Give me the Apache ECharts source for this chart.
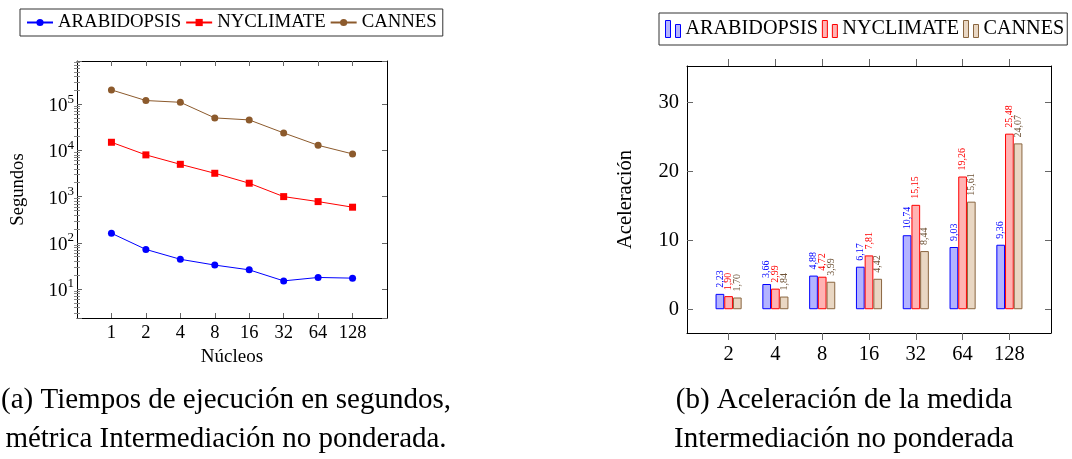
<!DOCTYPE html>
<html>
<head>
<meta charset="utf-8">
<script src="https://cdn.jsdelivr.net/npm/echarts@6/dist/echarts.min.js"></script>
<style>
html,body{margin:0;padding:0;background:#fff;}
#chart{width:1072px;height:459px;}
</style>
</head>
<body>
<div id="chart"></div>
<script>
// ---------- data: left chart (execution time, seconds, log scale) ----------
const coresLeft = ['1', '2', '4', '8', '16', '32', '64', '128'];
const timeArabidopsis = [161, 72, 44, 33, 26, 15, 17.8, 17.2];
const timeNyclimate = [15000, 8000, 5000, 3200, 1950, 1000, 780, 590];
const timeCannes = [204000, 120000, 110000, 50500, 45700, 23900, 12900, 8400];

// ---------- data: right chart (speedup) ----------
const coresRight = ['2', '4', '8', '16', '32', '64', '128'];
const speedArabidopsis = [2.23, 3.66, 4.88, 6.17, 10.74, 9.03, 9.36];
const speedNyclimate = [1.90, 2.99, 4.72, 7.81, 15.15, 19.26, 25.48];
const speedCannes = [1.70, 1.84, 3.99, 4.42, 8.44, 15.61, 24.07];
const speedTicks = [0, 10, 20, 30];

const seriesNames = ['ARABIDOPSIS', 'NYCLIMATE', 'CANNES'];

const FONT = 'Liberation Serif';
const logMin = 2.36, logMax = 861000;

// minor log ticks (2..9 x 10^k) for the axis decoration
const minorLog = [];
for (let k = 0; k <= 5; k++) {
  for (let m = 2; m <= 9; m++) {
    const v = m * Math.pow(10, k);
    if (v > logMin && v < logMax) minorLog.push(Math.log10(v));
  }
}
const leftXTicks = coresLeft.map((c, i) => i + 1);
const rightXTicks = coresRight.map((c, i) => i + 1);

const chart = echarts.init(document.getElementById('chart'), null, {renderer: 'canvas'});

const boxLine = {show: true, onZero: false, lineStyle: {color: '#000', width: 1}};
const tickStyle = {color: '#666', width: 1};

function pairs(arr) { return arr.map((v, i) => [i + 1, v]); }
function fmtComma(v) { return v.toFixed(2).replace('.', ','); }

const lineColors = ['#0000ff', '#ff0000', '#8c5a2c'];
const lineSymbols = ['circle', 'rect', 'circle'];
const timeSets = [timeArabidopsis, timeNyclimate, timeCannes];

const barFill = ['#b3b3ff', '#ffb3b3', '#e9d7c3'];
const barBorder = ['#0000ff', '#ff0000', '#8a6640'];
const barLabel = ['#0000ff', '#ff0000', '#6e5236'];
const speedSets = [speedArabidopsis, speedNyclimate, speedCannes];

const series = [];
timeSets.forEach((d, i) => {
  series.push({
    name: seriesNames[i], type: 'line', xAxisIndex: 0, yAxisIndex: 0,
    data: pairs(d), symbol: lineSymbols[i], symbolSize: 7,
    lineStyle: {width: 1, color: lineColors[i]},
    itemStyle: {color: lineColors[i]},
    animation: false
  });
});
speedSets.forEach((d, i) => {
  series.push({
    name: seriesNames[i], type: 'bar', xAxisIndex: 2, yAxisIndex: 4,
    data: pairs(d), barWidth: 8.7, barGap: '0%',
    itemStyle: {color: barFill[i], borderColor: barBorder[i], borderWidth: 1},
    label: {
      show: true, position: 'top', rotate: 90, distance: 6,
      align: 'left', verticalAlign: 'middle',
      fontFamily: FONT, fontSize: 10, color: barLabel[i],
      formatter: p => fmtComma(p.value[1])
    },
    animation: false
  });
});

const captionStyle = {fontFamily: FONT, fontSize: 29, fontWeight: 'normal', color: '#000', lineHeight: 39};

const option = {
  backgroundColor: '#fff',
  animation: false,
  title: [
    {text: '(a) Tiempos de ejecución en segundos,\nmétrica Intermediación no ponderada.',
     left: 226, top: 381, textAlign: 'center', padding: 0, textStyle: captionStyle},
    {text: '(b) Aceleración de la medida\nIntermediación no ponderada',
     left: 844, top: 381, textAlign: 'center', padding: 0, textStyle: captionStyle}
  ],
  legend: [
    {
      left: 20, top: 9, orient: 'horizontal',
      data: seriesNames,
      padding: [4, 6, 4, 6], itemGap: 4, itemWidth: 26, itemHeight: 9,
      borderColor: '#333', borderWidth: 1,
      textStyle: {fontFamily: FONT, fontSize: 18.8, color: '#000'},
      selectedMode: false
    },
    {
      left: 659, top: 13, width: 420, orient: 'horizontal',
      data: seriesNames.map((n, i) => ({
        name: n,
        icon: 'path://M0,0h5v17h-5z M10,4h5v13h-5z',
        itemStyle: {color: barFill[i], borderColor: barBorder[i], borderWidth: 1}
      })),
      padding: [6, 3, 6, 6], itemGap: 4, itemWidth: 15, itemHeight: 17,
      borderColor: '#333', borderWidth: 1,
      textStyle: {fontFamily: FONT, fontSize: 20.2, color: '#000'},
      selectedMode: false
    }
  ],
  grid: [
    {left: 77, top: 61, width: 310, height: 257, containLabel: false},
    {left: 687, top: 66, width: 364, height: 267, containLabel: false}
  ],
  xAxis: [
    {gridIndex: 0, type: 'value', position: 'bottom', min: 0, max: 9,
     axisLine: boxLine,
     axisTick: {show: true, inside: true, length: 5, lineStyle: tickStyle, customValues: leftXTicks},
     axisLabel: {show: true, customValues: leftXTicks, formatter: v => coresLeft[v - 1] || '',
                 fontFamily: FONT, fontSize: 18.5, color: '#000', margin: 6},
     splitLine: {show: false},
     name: 'Núcleos', nameLocation: 'middle', nameGap: 28,
     nameTextStyle: {fontFamily: FONT, fontSize: 19, color: '#000'}},
    {gridIndex: 0, type: 'value', position: 'top', min: 0, max: 9,
     axisLine: boxLine,
     axisTick: {show: true, inside: true, length: 5, lineStyle: tickStyle, customValues: leftXTicks},
     axisLabel: {show: false}, splitLine: {show: false}},
    {gridIndex: 1, type: 'value', position: 'bottom', min: 0.111, max: 7.889,
     axisLine: boxLine,
     axisTick: {show: true, inside: false, length: 7, lineStyle: tickStyle, customValues: rightXTicks},
     axisLabel: {show: true, customValues: rightXTicks, formatter: v => coresRight[v - 1] || '',
                 fontFamily: FONT, fontSize: 20.5, color: '#000', margin: 11},
     splitLine: {show: false}},
    {gridIndex: 1, type: 'value', position: 'top', min: 0.111, max: 7.889,
     axisLine: boxLine,
     axisTick: {show: true, inside: false, length: 7, lineStyle: tickStyle, customValues: rightXTicks},
     axisLabel: {show: false}, splitLine: {show: false}}
  ],
  yAxis: [
    {gridIndex: 0, type: 'log', logBase: 10, position: 'left', min: logMin, max: logMax,
     axisLine: boxLine,
     axisTick: {show: true, inside: true, length: 5, lineStyle: tickStyle},
     minorTick: {show: false},
     axisLabel: {
       show: true, margin: 3, color: '#000',
       formatter: v => {
         const e = Math.log10(v); const r = Math.round(e);
         if (Math.abs(e - r) > 1e-6) return '';
         return '{b|10}{s|' + r + '}';
       },
       rich: {
         b: {fontFamily: FONT, fontSize: 19, color: '#000', verticalAlign: 'bottom'},
         s: {fontFamily: FONT, fontSize: 13, color: '#000', verticalAlign: 'bottom', padding: [0, 0, 10, 0]}
       }
     },
     splitLine: {show: false},
     name: 'Segundos', nameLocation: 'middle', nameGap: 49, nameRotate: 90,
     nameTextStyle: {fontFamily: FONT, fontSize: 18.6, color: '#000'}},
    {gridIndex: 0, type: 'log', logBase: 10, position: 'right', min: logMin, max: logMax,
     axisLine: boxLine,
     axisTick: {show: true, inside: true, length: 5, lineStyle: tickStyle},
     axisLabel: {show: false}, splitLine: {show: false}},
    {gridIndex: 0, type: 'value', position: 'left', min: Math.log10(logMin), max: Math.log10(logMax),
     axisLine: {show: false},
     axisTick: {show: true, inside: true, length: 3, lineStyle: {color: '#888', width: 1}, customValues: minorLog},
     axisLabel: {show: false}, splitLine: {show: false}},
    {gridIndex: 0, type: 'value', position: 'right', min: Math.log10(logMin), max: Math.log10(logMax),
     axisLine: {show: false},
     axisTick: {show: true, inside: true, length: 3, lineStyle: {color: '#888', width: 1}, customValues: minorLog},
     axisLabel: {show: false}, splitLine: {show: false}},
    {gridIndex: 1, type: 'value', position: 'left', min: -3.45, max: 35.3,
     axisLine: boxLine,
     axisTick: {show: true, inside: true, length: 6, lineStyle: tickStyle, customValues: speedTicks},
     axisLabel: {show: true, customValues: speedTicks, fontFamily: FONT, fontSize: 20.5, color: '#000', margin: 8},
     splitLine: {show: false},
     name: 'Aceleración', nameLocation: 'middle', nameGap: 51, nameRotate: 90,
     nameTextStyle: {fontFamily: FONT, fontSize: 20.5, color: '#000'}},
    {gridIndex: 1, type: 'value', position: 'right', min: -3.45, max: 35.3,
     axisLine: boxLine,
     axisTick: {show: true, inside: true, length: 6, lineStyle: tickStyle, customValues: speedTicks},
     axisLabel: {show: false}, splitLine: {show: false}}
  ],
  series: series
};
chart.setOption(option);
</script>
</body>
</html>
